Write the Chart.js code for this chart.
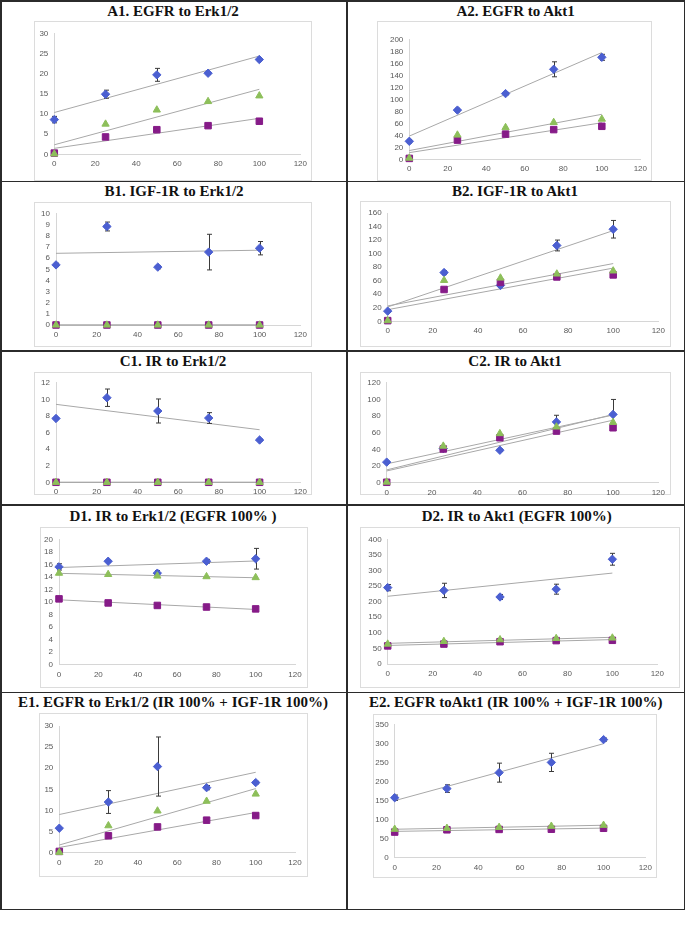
<!DOCTYPE html>
<html>
<head>
<meta charset="utf-8">
<script src="https://cdn.jsdelivr.net/npm/chart.js@4.4.1/dist/chart.umd.min.js"></script>
<style>
  html,body{margin:0;padding:0;background:#fff;}
  #fig{position:relative;width:685px;height:933px;overflow:hidden;background:#fff;}
  .ln{position:absolute;background:#2b2b2b;}
  .ttl{position:absolute;transform:translate(-50%,-50%);white-space:nowrap;font-family:"Liberation Serif","Times New Roman",serif;font-weight:bold;font-size:15px;color:#111;}
  .frm{position:absolute;border:1px solid #dcdcdc;box-sizing:border-box;}
  canvas{position:absolute;}
</style>
</head>
<body>
<div id="fig"></div>
<script>
// ---------------- DATA ----------------
const doses = [0, 25, 50, 75, 100];
const xTicks = [0, 20, 40, 60, 80, 100, 120];
const titles = [
  "A1. EGFR to Erk1/2",
  "A2. EGFR to Akt1",
  "B1. IGF-1R to Erk1/2",
  "B2. IGF-1R to Akt1",
  "C1. IR to Erk1/2",
  "C2. IR to Akt1",
  "D1. IR to Erk1/2 (EGFR 100% )",
  "D2. IR to Akt1 (EGFR 100%)",
  "E1. EGFR to Erk1/2 (IR 100% + IGF-1R 100%)",
  "E2. EGFR toAkt1 (IR 100% + IGF-1R 100%)"
];
const yMaxes = [30, 200, 10, 160, 12, 120, 20, 400, 30, 350];
const ySteps = [5, 20, 1, 20, 2, 20, 2, 50, 5, 50];

const a1Blue = [8.6, 14.9, 19.7, 20.1, 23.5];
const a1BlueErr = [0.8, 1.0, 1.6, 0.3, 0.4];
const a1Green = [0.1, 7.5, 11.0, 13.1, 14.5];
const a1Purple = [0.3, 4.3, 6.1, 7.1, 8.2];

const a2Blue = [30, 82, 109.5, 150, 170];
const a2BlueErr = [3, 3, 2, 12.5, 5];
const a2Green = [2, 40.5, 53, 61.5, 67];
const a2Purple = [1.5, 32, 42, 49.5, 55];

const b1Blue = [5.4, 8.85, 5.2, 6.55, 6.9];
const b1BlueErr = [0.15, 0.4, 0.15, 1.6, 0.6];
const b1Green = [0, 0, 0, 0, 0];
const b1Purple = [0, 0, 0, 0, 0];

const b2Blue = [15, 72, 53, 112, 136];
const b2BlueErr = [2, 3, 3, 8, 13];
const b2Green = [1, 60.5, 64, 70, 74.5];
const b2Purple = [1, 47, 57.5, 65.5, 68.5];

const c1Blue = [7.7, 10.2, 8.6, 7.75, 5.1];
const c1BlueErr = [0.1, 1.05, 1.45, 0.65, 0.1];
const c1Green = [0, 0, 0, 0, 0];
const c1Purple = [0, 0, 0, 0, 0];

const c2Blue = [24.7, 41, 39, 73, 82];
const c2BlueErr = [1, 1, 1.5, 8, 18];
const c2Green = [0.8, 44, 59, 67, 72.5];
const c2Purple = [0.5, 40.5, 54, 62, 66];

const d1Blue = [15.6, 16.5, 14.6, 16.5, 16.9];
const d1BlueErr = [0.5, 0.2, 0.4, 0.3, 1.65];
const d1Green = [14.6, 14.4, 14.15, 14.05, 13.9];
const d1Purple = [10.5, 9.85, 9.45, 9.2, 8.9];

const d2Blue = [245, 236, 215, 240, 336];
const d2BlueErr = [10, 23, 8, 16, 19];
const d2Green = [64, 72.5, 78, 82, 83.5];
const d2Purple = [58, 64, 71.5, 75, 76];

const e1Blue = [5.8, 12.0, 20.4, 15.4, 16.6];
const e1BlueErr = [0.2, 2.7, 7.0, 0.5, 0.3];
const e1Green = [0.1, 6.4, 9.9, 12.2, 13.9];
const e1Purple = [0.3, 4.0, 6.1, 7.7, 8.8];

const e2Blue = [158, 182, 224, 251, 311];
const e2BlueErr = [7, 10, 25, 24, 4];
const e2Green = [75, 77.5, 80, 83, 85.5];
const e2Purple = [67.5, 73.5, 74.5, 75, 77.5];

const blueSets = [a1Blue, a2Blue, b1Blue, b2Blue, c1Blue, c2Blue, d1Blue, d2Blue, e1Blue, e2Blue];
const blueErrs = [a1BlueErr, a2BlueErr, b1BlueErr, b2BlueErr, c1BlueErr, c2BlueErr, d1BlueErr, d2BlueErr, e1BlueErr, e2BlueErr];
const greenSets = [a1Green, a2Green, b1Green, b2Green, c1Green, c2Green, d1Green, d2Green, e1Green, e2Green];
const purpleSets = [a1Purple, a2Purple, b1Purple, b2Purple, c1Purple, c2Purple, d1Purple, d2Purple, e1Purple, e2Purple];

// ---------------- LAYOUT (page pixels) ----------------
// frame: [left, top, right, bottom]; plot: [x@0, x@120, y@max, y@0]; title centre: [cx, cy]
const layouts = [
  {frame:[34,21,312,181],  plot:[54.3,301,33.3,154.3],   title:[173,11]},
  {frame:[377,21,652,181], plot:[409.3,646.7,39.3,159.3], title:[515.7,11]},
  {frame:[34,202,312,347], plot:[56,301,213.7,325],       title:[174,191.3]},
  {frame:[360,201,671,347],plot:[387.7,658.3,213,321.3],  title:[515,191.3]},
  {frame:[34,372,312,495], plot:[56,301,381.3,482.3],     title:[173,360.7]},
  {frame:[360,372,671,495],plot:[386.7,658.3,380.7,482.7],title:[515,360.7]},
  {frame:[40,527,308,688], plot:[59,295,539.3,664.7],     title:[173,516]},
  {frame:[360,527,680,688],plot:[387.7,657.3,539.3,664],  title:[516.7,516]},
  {frame:[39,713,308,877], plot:[59.3,295,726,852.7],     title:[173,701.7]},
  {frame:[373,714,657,878],plot:[394.7,649,721,857.7],    title:[515.7,702.3]}
];

const BLUE = '#4b5fd1', GREEN = '#8dbf5a', PURPLE = '#861b88';
const TREND = '#a8a8a8';
const TICK_FONT = {family:'"Liberation Sans", Arial, sans-serif', size:8};
const TICK_COLOR = '#595959';

const fig = document.getElementById('fig');
function addLine(l,t,w,h){const d=document.createElement('div');d.className='ln';d.style.left=l+'px';d.style.top=t+'px';d.style.width=w+'px';d.style.height=h+'px';fig.appendChild(d);}
// table borders
addLine(0,0,685,1.5);
addLine(0,180.5,685,1.5);
addLine(0,350,685,1.5);
addLine(0,504,685,1.5);
addLine(0,691.5,685,1.5);
addLine(0,908.5,685,1.5);
addLine(0,0,1.5,910);
addLine(346,0,1.5,910);
addLine(683.5,0,1.5,910);

function pts(arr){return doses.map((x,i)=>({x:x,y:arr[i]}));}
function trend(arr){
  const n = doses.length; let sx=0, sy=0, sxx=0, sxy=0;
  for(let i=0;i<n;i++){sx+=doses[i];sy+=arr[i];sxx+=doses[i]*doses[i];sxy+=doses[i]*arr[i];}
  const m=(n*sxy-sx*sy)/(n*sxx-sx*sx); const b=(sy-m*sx)/n;
  return [{x:doses[0],y:b+m*doses[0]},{x:doses[n-1],y:b+m*doses[n-1]}];
}

// error bars drawn just before the blue series (above trend lines, below markers)
const errorBars = {
  id:'errorBars',
  beforeDatasetDraw(chart, args){
    const ds = chart.data.datasets[args.index];
    if(!ds.errors) return;
    const ctx = chart.ctx, xs = chart.scales.x, ys = chart.scales.y;
    ctx.save(); ctx.strokeStyle='#3a3a3a'; ctx.lineWidth=1;
    ds.data.forEach((p,i)=>{
      const e = ds.errors[i]; const px = Math.round(xs.getPixelForValue(p.x))+0.5;
      const y1 = ys.getPixelForValue(p.y+e), y2 = ys.getPixelForValue(p.y-e);
      ctx.beginPath();
      ctx.moveTo(px,y1); ctx.lineTo(px,y2);
      ctx.moveTo(px-2.5,y1); ctx.lineTo(px+2.5,y1);
      ctx.moveTo(px-2.5,y2); ctx.lineTo(px+2.5,y2);
      ctx.stroke();
    });
    ctx.restore();
  }
};

layouts.forEach((L,k)=>{
  const [fl,ft,fr,fb] = L.frame; const [x0,x120,yt,y0] = L.plot;
  const t = document.createElement('div'); t.className='ttl'; t.textContent=titles[k];
  t.style.left=L.title[0]+'px'; t.style.top=L.title[1]+'px'; fig.appendChild(t);
  const f = document.createElement('div'); f.className='frm';
  f.style.left=fl+'px'; f.style.top=ft+'px'; f.style.width=(fr-fl)+'px'; f.style.height=(fb-ft)+'px'; fig.appendChild(f);
  const c = document.createElement('canvas');
  c.width = fr-fl; c.height = fb-ft; c.style.left=fl+'px'; c.style.top=ft+'px';
  c.style.width=(fr-fl)+'px'; c.style.height=(fb-ft)+'px';
  fig.appendChild(c);
  const yW = x0-fl, xH = fb-y0;
  const yTickVals = [];
  for(let v=0; v<=yMaxes[k]+1e-9; v+=ySteps[k]) yTickVals.push(v);
  new Chart(c, {
    type:'scatter',
    data:{datasets:[
      {type:'line', data:trend(blueSets[k]), borderColor:TREND, borderWidth:1, pointRadius:0, fill:false, order:10, clip:false},
      {type:'line', data:trend(greenSets[k]), borderColor:TREND, borderWidth:1, pointRadius:0, fill:false, order:10, clip:false},
      {type:'line', data:trend(purpleSets[k]), borderColor:TREND, borderWidth:1, pointRadius:0, fill:false, order:10, clip:false},
      {data:pts(blueSets[k]), errors:blueErrs[k], pointStyle:'rectRot', pointRadius:4.2, backgroundColor:BLUE, borderColor:BLUE, borderWidth:1, order:3, clip:false},
      {data:pts(purpleSets[k]), pointStyle:'rect', pointRadius:4.6, backgroundColor:PURPLE, borderColor:PURPLE, borderWidth:1, order:2, clip:false},
      {data:pts(greenSets[k]), pointStyle:'triangle', pointRadius:4.2, backgroundColor:GREEN, borderColor:GREEN, borderWidth:1, order:1, clip:false}
    ]},
    options:{
      responsive:false, animation:false, devicePixelRatio:1,
      layout:{autoPadding:false, padding:{left:0, top:yt-ft, right:fr-x120, bottom:0}},
      plugins:{legend:{display:false}, tooltip:{enabled:false}},
      events:[],
      scales:{
        x:{type:'linear', min:xTicks[0], max:xTicks[xTicks.length-1],
           afterBuildTicks(s){s.ticks = xTicks.map(v=>({value:v}));},
           ticks:{font:TICK_FONT, color:TICK_COLOR, padding:5, maxRotation:0, autoSkip:false},
           grid:{display:false, drawTicks:false}, border:{display:true, color:'#d6d6d6', width:1},
           afterFit(s){s.height = xH;}},
        y:{type:'linear', min:0, max:yMaxes[k],
           afterBuildTicks(s){s.ticks = yTickVals.map(v=>({value:v}));},
           ticks:{font:TICK_FONT, color:TICK_COLOR, padding:6, autoSkip:false},
           grid:{display:false, drawTicks:false}, border:{display:true, color:'#d6d6d6', width:1},
           afterFit(s){s.width = yW;}}
      }
    },
    plugins:[errorBars]
  });
});
</script>
</body>
</html>
